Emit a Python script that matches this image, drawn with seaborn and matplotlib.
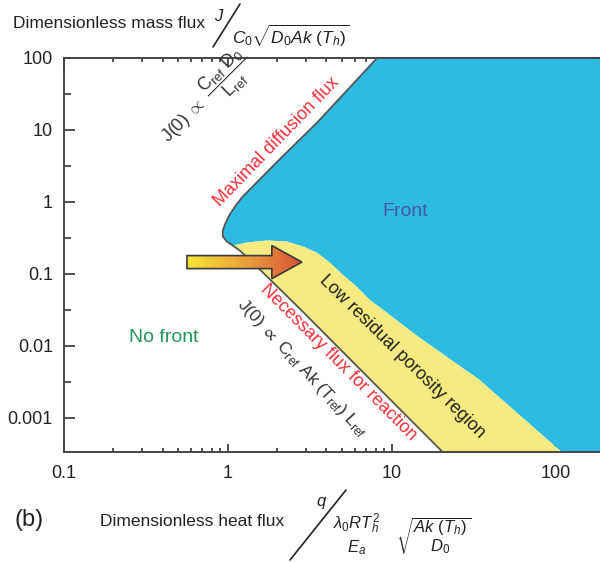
import numpy as np
import matplotlib
matplotlib.use("Agg")
import matplotlib.pyplot as plt
from matplotlib import ticker
from matplotlib.lines import Line2D
from matplotlib.patches import Polygon
from matplotlib.colors import LinearSegmentedColormap
import seaborn as sns

# front / no front boundary (maximal diffusion flux + the nose)
front_x = [9.06, 3.49, 2.07, 1.235, 1.119, 1.028, 0.972, 0.932, 0.932, 0.986, 1.073]
front_y = [129, 12.5, 3.9, 1.19, 0.894, 0.670, 0.518, 0.401, 0.331, 0.282, 0.248]
# necessary flux for reaction
need_x = [1.073, 1.184, 1.57, 2.75, 6.38, 20.5, 24.2]
need_y = [0.248, 0.211, 0.115, 0.0329, 0.0048, 3.35e-4, 2.28e-4]
# upper edge of the low residual porosity region
low_x = [1.073, 1.31, 1.73, 2.29, 2.87, 3.49, 4.19, 5.02, 6.12, 7.34, 14.8, 34.4, 109, 131]
low_y = [0.248, 0.273, 0.291, 0.282, 0.240, 0.198, 0.144, 0.0977, 0.0665,
         0.0438, 0.0130, 0.00337, 3.35e-4, 2.35e-4]

x_ticks = [0.1, 1, 10, 100]
x_labels = ["0.1", "1", "10", "100"]
y_ticks = [0.001, 0.01, 0.1, 1, 10, 100]
y_labels = ["0.001", "0.01", "0.1", "1", "10", "100"]

BLUE = "#2EBBE2"
YELLOW = "#F5EB82"
RED = "#F2303C"

sns.set_style("ticks")
plt.rcParams["font.family"] = ["Liberation Sans", "DejaVu Sans"]
plt.rcParams["mathtext.fontset"] = "custom"
plt.rcParams["mathtext.rm"] = "Liberation Sans"
plt.rcParams["mathtext.it"] = "Liberation Sans:italic"
plt.rcParams["mathtext.bf"] = "Liberation Sans:bold"

W, H = 600, 563
fig = plt.figure(figsize=(6, 5.63), dpi=100)
ax = fig.add_axes([64 / W, 1 - 452 / H, 537 / W, 394 / H])
ax.set_xscale("log")
ax.set_yscale("log")

# regions
ax.fill(front_x + low_x[1:] + [131, 1e3, 1e3, 9.06],
        front_y + low_y[1:] + [1e-6, 1e-6, 1e4, 1e4],
        color=BLUE, lw=0, zorder=1)
ax.fill(low_x + need_x[::-1], low_y + need_y[::-1], color=YELLOW, lw=0, zorder=2)
sns.lineplot(x=front_x + need_x[1:], y=front_y + need_y[1:], sort=False,
             estimator=None, color="#555555", lw=1.3, ax=ax, zorder=3)

ax.set_xlim(0.1, 190)
ax.set_ylim(3.35e-4, 100)

ax.xaxis.set_major_locator(ticker.FixedLocator(x_ticks))
ax.xaxis.set_major_formatter(ticker.FixedFormatter(x_labels))
ax.xaxis.set_minor_locator(ticker.LogLocator(subs=range(2, 10), numticks=20))
ax.xaxis.set_minor_formatter(ticker.NullFormatter())
ax.yaxis.set_major_locator(ticker.FixedLocator(y_ticks))
ax.yaxis.set_major_formatter(ticker.FixedFormatter(y_labels))
ax.yaxis.set_minor_locator(ticker.LogLocator(subs=[10 ** 0.5], numticks=20))
ax.yaxis.set_minor_formatter(ticker.NullFormatter())

ax.tick_params(which="both", direction="in", top=True, right=True,
               color="#333333", width=1.2, labelsize=13, labelcolor="#222222")
ax.tick_params(axis="x", which="major", length=6, pad=9)
ax.tick_params(axis="x", which="minor", length=3)
ax.tick_params(axis="y", which="major", length=8, pad=8)
ax.tick_params(axis="y", which="minor", length=5)
for s in ax.spines.values():
    s.set_color("#444444")
    s.set_linewidth(1.4)

# gradient arrow on an overlay axes
ov = fig.add_axes(ax.get_position(), facecolor="none")
ov.axis("off")
yc = 0.482
tl, hb, tip, th, hh = 0.229, 0.387, 0.443, 0.0165, 0.042
arrow = Polygon([(tl, yc - th), (hb, yc - th), (hb, yc - hh), (tip, yc),
                 (hb, yc + hh), (hb, yc + th), (tl, yc + th)], closed=True,
                facecolor="none", edgecolor="#3a3a3a", lw=1.2, zorder=6)
cmap = LinearSegmentedColormap.from_list("arr", ["#F6E637", "#EBA23A", "#D8523A"])
img = ov.imshow(np.linspace(0, 1, 256).reshape(1, -1), cmap=cmap, aspect="auto",
                extent=[tl, tip, yc - hh, yc + hh], zorder=5)
ov.add_patch(arrow)
img.set_clip_path(arrow)
ov.set_xlim(0, 1)
ov.set_ylim(0, 1)


def ftext(px, py, s, **kw):
    kw.setdefault("ha", "center")
    kw.setdefault("va", "center")
    return fig.text(px / W, 1 - py / H, s, **kw)


def fline(p0, p1):
    fig.add_artist(Line2D([p0[0] / W, p1[0] / W], [1 - p0[1] / H, 1 - p1[1] / H],
                          color="#222222", lw=1.2))


# region labels
ftext(164, 338, "No front", fontsize=14, color="#22955A")
ftext(405, 211, "Front", fontsize=14, color="#4B57A5")
ftext(277, 142, "Maximal diffusion flux", fontsize=13, color=RED, rotation=46,
      rotation_mode="anchor")
ftext(338, 362, "Necessary flux for reaction", fontsize=13, color=RED, rotation=-45,
      rotation_mode="anchor")
ftext(402, 357, "Low residual porosity region", fontsize=13, color="#222222",
      rotation=-44.5, rotation_mode="anchor")
ftext(302, 368, r"$\mathregular{J(0)\ \propto\ C_{ref}\ Ak\ (T_{ref})\ L_{ref}}$",
      fontsize=12.5, color="#333333", rotation=-47, rotation_mode="anchor")
ftext(207, 99, r"$\mathrm{J(0)}\ \propto\ \genfrac{}{}{0.6}{0}{\mathrm{C_{ref}}\ \mathrm{D_0}}{\mathrm{L_{ref}}}$",
      fontsize=13, color="#333333", rotation=45, rotation_mode="anchor")

# axis titles
ftext(13, 23, "Dimensionless mass flux", fontsize=12.5, ha="left", color="#222222")
ftext(219, 16, r"$J$", fontsize=12, color="#222222")
fline((213, 47), (240, 4))
ftext(232, 36, r"$C_0\sqrt{D_0Ak\ (T_h)}$", fontsize=12.5, ha="left", color="#222222")

ftext(15, 520, "(b)", fontsize=17, ha="left", color="#222222")
ftext(100, 522, "Dimensionless heat flux", fontsize=12.5, ha="left", color="#222222")
ftext(322, 503, r"$q$", fontsize=12, color="#222222")
fline((290, 560), (346, 490))
ftext(357, 524, r"$\lambda_0RT_h^2$", fontsize=12, color="#222222")
ftext(357, 548, r"$E_a$", fontsize=12, color="#222222")
ftext(396, 536, r"$\sqrt{\genfrac{}{}{0}{0}{Ak\ (T_h)}{D_0}}$",
      fontsize=12, ha="left", color="#222222")

fig.savefig("out.png", dpi=100)
